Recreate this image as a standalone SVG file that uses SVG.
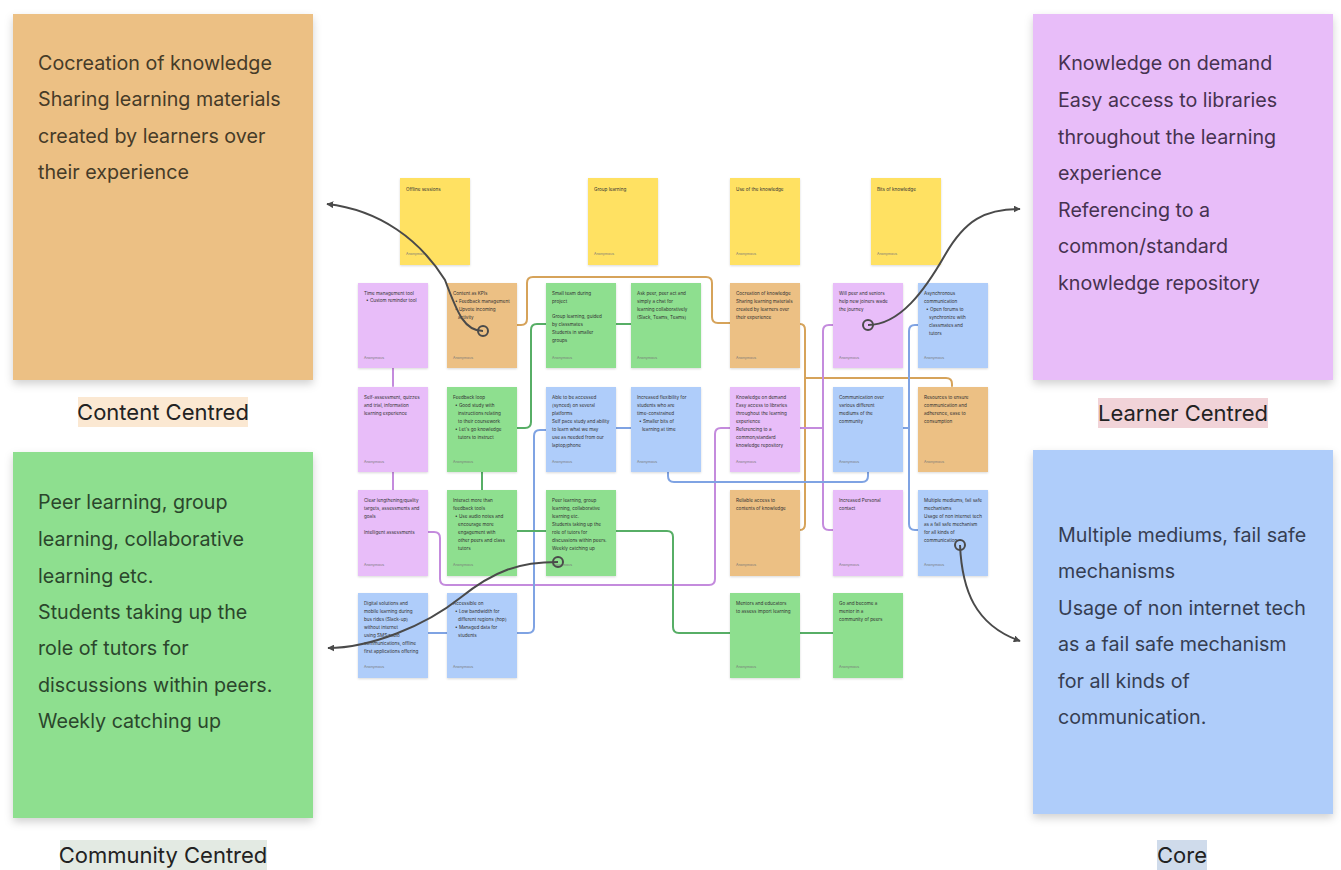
<svg xmlns="http://www.w3.org/2000/svg" width="1341" height="870" viewBox="0 0 1341 870">
<defs>
<filter id="sh" x="-10%" y="-10%" width="120%" height="125%"><feDropShadow dx="0" dy="4" stdDeviation="4" flood-color="#000" flood-opacity="0.18"/></filter>
<filter id="shs" x="-10%" y="-10%" width="120%" height="125%"><feDropShadow dx="0" dy="1" stdDeviation="1" flood-color="#000" flood-opacity="0.15"/></filter>
<marker id="ah" viewBox="0 0 10 10" refX="9" refY="5" markerWidth="7" markerHeight="7" orient="auto" markerUnits="userSpaceOnUse"><path d="M0,0 L10,5 L0,10 z" fill="#4a4a4a"/></marker>
<style>
.big{font-family:Inter,"Liberation Sans",sans-serif;font-size:19.7px;}
.lab{font-family:Inter,"Liberation Sans",sans-serif;font-size:22px;fill:#222;}
.n{font-family:Inter,"Liberation Sans",sans-serif;font-size:4.6px;fill:#333;}
.f{font-family:Inter,"Liberation Sans",sans-serif;font-size:3.6px;fill:#777;}
.or{fill:#ECC084;}
.pu{fill:#E8BDF9;}
.gr{fill:#8EDF8F;}
.bl{fill:#AFCDFA;}
.ye{fill:#FFE162;}
.c{fill:none;stroke-width:2;stroke-linecap:round;stroke-linejoin:round;}
.co{stroke:#D6A35A;}
.cp{stroke:#C48BDD;}
.cb{stroke:#7FA3E3;}
.cg{stroke:#57AE66;}
.arr{fill:none;stroke:#4a4a4a;stroke-width:2;}
.ring{fill:none;stroke:#4a4a4a;stroke-width:2;}
</style>
</defs>
<rect width="1341" height="870" fill="#ffffff"/>

<!-- big boxes -->
<g id="content-centred">
<rect x="13" y="14" width="300" height="366" class="or" filter="url(#sh)"/>
<text class="big" fill="#463b28"><tspan x="38" y="70">Cocreation of knowledge</tspan><tspan x="38" y="106">Sharing learning materials</tspan><tspan x="38" y="143">created by learners over</tspan><tspan x="38" y="179">their experience</tspan></text>
<rect x="78" y="397" width="170" height="30" fill="#FBE8D2"/>
<text class="lab" x="163" y="420" text-anchor="middle">Content Centred</text>
</g>
<g id="learner-centred">
<rect x="1033" y="14" width="300" height="366" class="pu" filter="url(#sh)"/>
<text class="big" fill="#463250"><tspan x="1058" y="70">Knowledge on demand</tspan><tspan x="1058" y="107">Easy access to libraries</tspan><tspan x="1058" y="144">throughout the learning</tspan><tspan x="1058" y="180">experience</tspan><tspan x="1058" y="217">Referencing to a</tspan><tspan x="1058" y="253">common/standard</tspan><tspan x="1058" y="290">knowledge repository</tspan></text>
<rect x="1098" y="398" width="170" height="30" fill="#F1D3D8"/>
<text class="lab" x="1183" y="421" text-anchor="middle">Learner Centred</text>
</g>
<g id="community-centred">
<rect x="13" y="452" width="300" height="366" class="gr" filter="url(#sh)"/>
<text class="big" fill="#2b462c"><tspan x="38" y="509">Peer learning, group</tspan><tspan x="38" y="546">learning, collaborative</tspan><tspan x="38" y="583">learning etc.</tspan><tspan x="38" y="619">Students taking up the</tspan><tspan x="38" y="655">role of tutors for</tspan><tspan x="38" y="692">discussions within peers.</tspan><tspan x="38" y="728">Weekly catching up</tspan></text>
<rect x="60" y="840" width="207" height="30" fill="#E3EAE3"/>
<text class="lab" x="163" y="863" text-anchor="middle">Community Centred</text>
</g>
<g id="core">
<rect x="1033" y="450" width="300" height="364" class="bl" filter="url(#sh)"/>
<text class="big" fill="#363e52"><tspan x="1058" y="542">Multiple mediums, fail safe</tspan><tspan x="1058" y="578">mechanisms</tspan><tspan x="1058" y="615">Usage of non internet tech</tspan><tspan x="1058" y="651">as a fail safe mechanism</tspan><tspan x="1058" y="688">for all kinds of</tspan><tspan x="1058" y="724">communication.</tspan></text>
<rect x="1157" y="840" width="50" height="30" fill="#CFDBEB"/>
<text class="lab" x="1182" y="863" text-anchor="middle">Core</text>
</g>

<!-- connectors -->
<g id="connectors">
<path class="c co" d="M517,325 H521 Q527,325 527,319 V283 Q527,277 533,277 H706 Q712,277 712,283 V317 Q712,323 718,323 H730"/>
<path class="c co" d="M800,324 Q805,324 805,330 V524 Q805,530 800,530"/>
<path class="c co" d="M805,378 H946 Q952,378 952,384 V386"/>
<path class="c cp" d="M393,368 V386"/>
<path class="c cp" d="M393,472 V490"/>
<path class="c cp" d="M428,532 H434 Q440,532 440,538 V579 Q440,585 446,585 H709 Q715,585 715,579 V434 Q715,428 721,428 H730"/>
<path class="c cp" d="M833,325 H829 Q823,325 823,331 V524 Q823,530 829,530 H833"/>
<path class="c cp" d="M800,428 H823"/>
<path class="c cb" d="M918,325 H915 Q909,325 909,331 V524 Q909,530 915,530 H918"/>
<path class="c cb" d="M903,428 H909"/>
<path class="c cb" d="M668,472 V476 Q668,482 674,482 H862 Q868,482 868,476 V472"/>
<path class="c cb" d="M616,428 H631"/>
<path class="c cb" d="M546,430 H540 Q534,430 534,436 V627 Q534,633 528,633 H517"/>
<path class="c cb" d="M428,633 H447"/>
<path class="c cg" d="M616,324 H631"/>
<path class="c cg" d="M546,324 H537 Q531,324 531,330 V422 Q531,428 525,428 H517"/>
<path class="c cg" d="M482,472 V490"/>
<path class="c cg" d="M517,531 H546"/>
<path class="c cg" d="M616,531 H667 Q673,531 673,537 V627 Q673,633 679,633 H730"/>
<path class="c cg" d="M800,633 H833"/>
</g>

<!-- yellow headers -->
<g id="y1"><rect x="400" y="178" width="70" height="87" class="ye" filter="url(#shs)"/><text class="n" x="406" y="191">Offline sessions</text><text class="f" x="406" y="255">Anonymous</text></g>
<g id="y2"><rect x="588" y="178" width="70" height="87" class="ye" filter="url(#shs)"/><text class="n" x="594" y="191">Group learning</text><text class="f" x="594" y="255">Anonymous</text></g>
<g id="y3"><rect x="730" y="178" width="70" height="87" class="ye" filter="url(#shs)"/><text class="n" x="736" y="191">Use of the knowledge</text><text class="f" x="736" y="255">Anonymous</text></g>
<g id="y4"><rect x="871" y="178" width="70" height="87" class="ye" filter="url(#shs)"/><text class="n" x="877" y="191">Bits of knowledge</text><text class="f" x="877" y="255">Anonymous</text></g>

<!-- row 1 -->
<g id="r1c1"><rect x="358" y="283" width="70" height="85" class="pu" filter="url(#shs)"/><text class="n"><tspan x="364" y="295">Time management tool</tspan><tspan x="366" y="302">• Custom reminder tool</tspan></text><text class="f" x="364" y="359">Anonymous</text></g>
<g id="r1c2"><rect x="447" y="283" width="70" height="85" class="or" filter="url(#shs)"/><text class="n"><tspan x="453" y="295">Content as KPIs</tspan><tspan x="455" y="303">• Feedback management</tspan><tspan x="455" y="311">• Upvote incoming</tspan><tspan x="458" y="319">activity</tspan></text><text class="f" x="453" y="359">Anonymous</text></g>
<g id="r1c3"><rect x="546" y="283" width="70" height="85" class="gr" filter="url(#shs)"/><text class="n"><tspan x="552" y="295">Small team during</tspan><tspan x="552" y="303">project</tspan><tspan x="552" y="318">Group learning, guided</tspan><tspan x="552" y="326">by classmates</tspan><tspan x="552" y="334">Students in smaller</tspan><tspan x="552" y="342">groups</tspan></text><text class="f" x="552" y="359">Anonymous</text></g>
<g id="r1c4"><rect x="631" y="283" width="70" height="85" class="gr" filter="url(#shs)"/><text class="n"><tspan x="637" y="295">Ask peer, peer act and</tspan><tspan x="637" y="303">simply a chat for</tspan><tspan x="637" y="311">learning collaboratively</tspan><tspan x="637" y="319">(Slack, Teams, Teams)</tspan></text><text class="f" x="637" y="359">Anonymous</text></g>
<g id="r1c5"><rect x="730" y="283" width="70" height="85" class="or" filter="url(#shs)"/><text class="n"><tspan x="736" y="295">Cocreation of knowledge</tspan><tspan x="736" y="303">Sharing learning materials</tspan><tspan x="736" y="311">created by learners over</tspan><tspan x="736" y="319">their experience</tspan></text><text class="f" x="736" y="359">Anonymous</text></g>
<g id="r1c6"><rect x="833" y="283" width="70" height="85" class="pu" filter="url(#shs)"/><text class="n"><tspan x="839" y="295">Will peer and seniors</tspan><tspan x="839" y="303">help new joiners wade</tspan><tspan x="839" y="311">the journey</tspan></text><text class="f" x="839" y="359">Anonymous</text></g>
<g id="r1c7"><rect x="918" y="283" width="70" height="85" class="bl" filter="url(#shs)"/><text class="n"><tspan x="924" y="295">Asynchronous</tspan><tspan x="924" y="303">communication</tspan><tspan x="926" y="311">• Open forums to</tspan><tspan x="929" y="319">synchronize with</tspan><tspan x="929" y="327">classmates and</tspan><tspan x="929" y="335">tutors</tspan></text><text class="f" x="924" y="359">Anonymous</text></g>

<!-- row 2 -->
<g id="r2c1"><rect x="358" y="387" width="70" height="85" class="pu" filter="url(#shs)"/><text class="n"><tspan x="364" y="399">Self-assessment, quizzes</tspan><tspan x="364" y="407">and trial, information</tspan><tspan x="364" y="415">learning experience</tspan></text><text class="f" x="364" y="463">Anonymous</text></g>
<g id="r2c2"><rect x="447" y="387" width="70" height="85" class="gr" filter="url(#shs)"/><text class="n"><tspan x="453" y="399">Feedback loop</tspan><tspan x="455" y="407">• Good study with</tspan><tspan x="458" y="415">instructions relating</tspan><tspan x="458" y="423">to their coursework</tspan><tspan x="455" y="431">• Let's go knowledge</tspan><tspan x="458" y="439">tutors to instruct</tspan></text><text class="f" x="453" y="463">Anonymous</text></g>
<g id="r2c3"><rect x="546" y="387" width="70" height="85" class="bl" filter="url(#shs)"/><text class="n"><tspan x="552" y="399">Able to be accessed</tspan><tspan x="552" y="407">(synced) on several</tspan><tspan x="552" y="415">platforms</tspan><tspan x="552" y="423">Self pace study and ability</tspan><tspan x="552" y="431">to learn what we may</tspan><tspan x="552" y="439">use as needed from our</tspan><tspan x="552" y="447">laptop/phone</tspan></text><text class="f" x="552" y="463">Anonymous</text></g>
<g id="r2c4"><rect x="631" y="387" width="70" height="85" class="bl" filter="url(#shs)"/><text class="n"><tspan x="637" y="399">Increased flexibility for</tspan><tspan x="637" y="407">students who are</tspan><tspan x="637" y="415">time-constrained</tspan><tspan x="639" y="423">• Smaller bits of</tspan><tspan x="642" y="431">learning at time</tspan></text><text class="f" x="637" y="463">Anonymous</text></g>
<g id="r2c5"><rect x="730" y="387" width="70" height="85" class="pu" filter="url(#shs)"/><text class="n"><tspan x="736" y="399">Knowledge on demand</tspan><tspan x="736" y="407">Easy access to libraries</tspan><tspan x="736" y="415">throughout the learning</tspan><tspan x="736" y="423">experience</tspan><tspan x="736" y="431">Referencing to a</tspan><tspan x="736" y="439">common/standard</tspan><tspan x="736" y="447">knowledge repository</tspan></text><text class="f" x="736" y="463">Anonymous</text></g>
<g id="r2c6"><rect x="833" y="387" width="70" height="85" class="bl" filter="url(#shs)"/><text class="n"><tspan x="839" y="399">Communication over</tspan><tspan x="839" y="407">various different</tspan><tspan x="839" y="415">mediums of the</tspan><tspan x="839" y="423">community</tspan></text><text class="f" x="839" y="463">Anonymous</text></g>
<g id="r2c7"><rect x="918" y="387" width="70" height="85" class="or" filter="url(#shs)"/><text class="n"><tspan x="924" y="399">Resources to ensure</tspan><tspan x="924" y="407">communication and</tspan><tspan x="924" y="415">adherence, ease to</tspan><tspan x="924" y="423">consumption</tspan></text><text class="f" x="924" y="463">Anonymous</text></g>

<!-- row 3 -->
<g id="r3c1"><rect x="358" y="490" width="70" height="86" class="pu" filter="url(#shs)"/><text class="n"><tspan x="364" y="502">Clear lengthening/quality</tspan><tspan x="364" y="510">targets, assessments and</tspan><tspan x="364" y="518">goals</tspan><tspan x="364" y="534">Intelligent assessments</tspan></text><text class="f" x="364" y="566">Anonymous</text></g>
<g id="r3c2"><rect x="447" y="490" width="70" height="86" class="gr" filter="url(#shs)"/><text class="n"><tspan x="453" y="502">Interact more than</tspan><tspan x="453" y="510">feedback tools</tspan><tspan x="455" y="518">• Use audio notes and</tspan><tspan x="458" y="526">encourage more</tspan><tspan x="458" y="534">engagement with</tspan><tspan x="458" y="542">other peers and class</tspan><tspan x="458" y="550">tutors</tspan></text><text class="f" x="453" y="566">Anonymous</text></g>
<g id="r3c3"><rect x="546" y="490" width="70" height="86" class="gr" filter="url(#shs)"/><text class="n"><tspan x="552" y="502">Peer learning, group</tspan><tspan x="552" y="510">learning, collaborative</tspan><tspan x="552" y="518">learning etc.</tspan><tspan x="552" y="526">Students taking up the</tspan><tspan x="552" y="534">role of tutors for</tspan><tspan x="552" y="542">discussions within peers.</tspan><tspan x="552" y="550">Weekly catching up</tspan></text><text class="f" x="552" y="566">Anonymous</text></g>
<g id="r3c5"><rect x="730" y="490" width="70" height="86" class="or" filter="url(#shs)"/><text class="n"><tspan x="736" y="502">Reliable access to</tspan><tspan x="736" y="510">contents of knowledge</tspan></text><text class="f" x="736" y="566">Anonymous</text></g>
<g id="r3c6"><rect x="833" y="490" width="70" height="86" class="pu" filter="url(#shs)"/><text class="n"><tspan x="839" y="502">Increased Personal</tspan><tspan x="839" y="510">contact</tspan></text><text class="f" x="839" y="566">Anonymous</text></g>
<g id="r3c7"><rect x="918" y="490" width="70" height="86" class="bl" filter="url(#shs)"/><text class="n"><tspan x="924" y="502">Multiple mediums, fail safe</tspan><tspan x="924" y="510">mechanisms</tspan><tspan x="924" y="518">Usage of non internet tech</tspan><tspan x="924" y="526">as a fail safe mechanism</tspan><tspan x="924" y="534">for all kinds of</tspan><tspan x="924" y="542">communication.</tspan></text><text class="f" x="924" y="566">Anonymous</text></g>

<!-- row 4 -->
<g id="r4c1"><rect x="358" y="593" width="70" height="85" class="bl" filter="url(#shs)"/><text class="n"><tspan x="364" y="605">Digital solutions and</tspan><tspan x="364" y="613">mobile learning during</tspan><tspan x="364" y="621">bus rides (Slack-up)</tspan><tspan x="364" y="629">without internet</tspan><tspan x="364" y="637">using SMS/radio</tspan><tspan x="364" y="645">communications, offline</tspan><tspan x="364" y="653">first applications offering</tspan></text><text class="f" x="364" y="668">Anonymous</text></g>
<g id="r4c2"><rect x="447" y="593" width="70" height="85" class="bl" filter="url(#shs)"/><text class="n"><tspan x="453" y="605">Accessible on</tspan><tspan x="455" y="613">• Low bandwidth for</tspan><tspan x="458" y="621">different regions (hop)</tspan><tspan x="455" y="629">• Managed data for</tspan><tspan x="458" y="637">students</tspan></text><text class="f" x="453" y="668">Anonymous</text></g>
<g id="r4c5"><rect x="730" y="593" width="70" height="85" class="gr" filter="url(#shs)"/><text class="n"><tspan x="736" y="605">Mentors and educators</tspan><tspan x="736" y="613">to assess import learning</tspan></text><text class="f" x="736" y="668">Anonymous</text></g>
<g id="r4c6"><rect x="833" y="593" width="70" height="85" class="gr" filter="url(#shs)"/><text class="n"><tspan x="839" y="605">Go and become a</tspan><tspan x="839" y="613">mentor in a</tspan><tspan x="839" y="621">community of peers</tspan></text><text class="f" x="839" y="668">Anonymous</text></g>

<!-- callout arrows -->
<g id="callouts">
<path class="arr" d="M483,331 C465,331 458,315 445,280 C420,240 380,210 327,204" marker-end="url(#ah)"/>
<circle class="ring" cx="483" cy="331" r="5"/>
<path class="arr" d="M868,325 C900,325 925,290 945,255 C965,220 985,209 1020,209" marker-end="url(#ah)"/>
<circle class="ring" cx="868" cy="325" r="5"/>
<path class="arr" d="M558,562 C520,562 495,570 460,598 C425,626 370,648 328,648" marker-end="url(#ah)"/>
<circle class="ring" cx="558" cy="562" r="5"/>
<path class="arr" d="M960,545 C962,590 975,625 1020,641" marker-end="url(#ah)"/>
<circle class="ring" cx="960" cy="545" r="5"/>
</g>
</svg>
